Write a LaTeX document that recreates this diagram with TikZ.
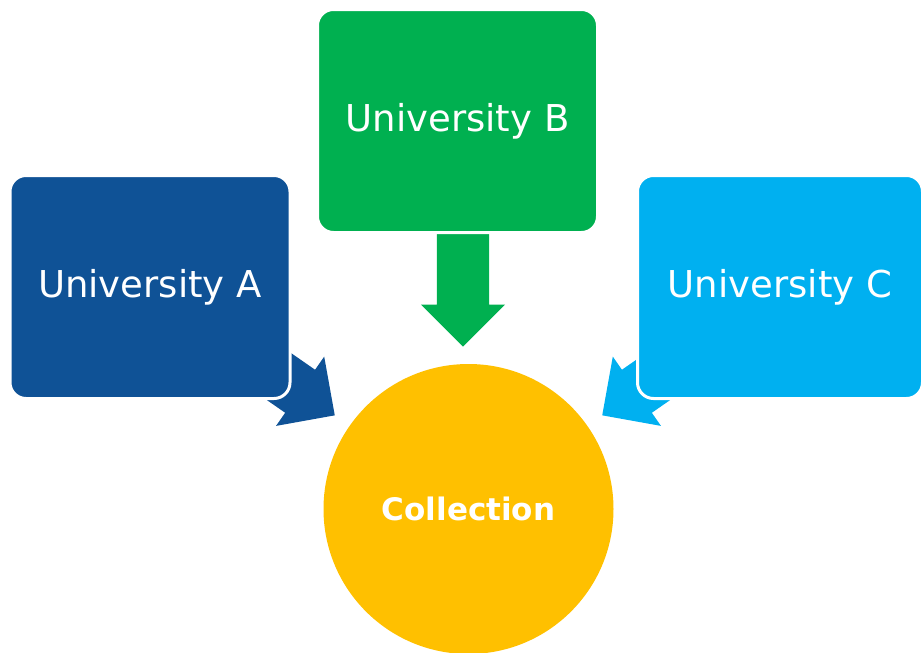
\documentclass[tikz,border=0pt]{standalone}
\usepackage{fontspec}
\setmainfont{DejaVu Sans}
\usepackage{tikz}
\usetikzlibrary{shapes,arrows,positioning,calc}

\definecolor{uniblueA}{HTML}{0F5296}
\definecolor{unigreenB}{HTML}{00B050}
\definecolor{unicyanC}{HTML}{00B0F0}
\definecolor{collgold}{HTML}{FFC000}

\begin{document}
\begin{tikzpicture}[x=1pt,y=-1pt,
  unibox/.style={rounded corners=16pt,draw=white,line width=3pt,text=white,
    minimum width=280pt,minimum height=223pt,inner sep=0pt,
    font=\fontsize{37}{44}\selectfont},
  blockarrow/.style={single arrow,single arrow head extend=16pt,
    minimum height=113pt,inner xsep=0pt,inner ysep=26pt,anchor=tip,draw=none}]
\useasboundingbox (0,0) rectangle (922,653);

% Arrows (behind the boxes)
\node[blockarrow,fill=uniblueA,rotate=-34.8] (arrowA) at (335,415.5) {};
\node[blockarrow,fill=unigreenB,rotate=-90] (arrowB) at (463,347) {};
\node[blockarrow,fill=unicyanC,rotate=-145.2] (arrowC) at (602,415.5) {};

% Universities
\node[unibox,fill=uniblueA] (uniA) at (150,287) {University A};
\node[unibox,fill=unigreenB] (uniB) at (457.5,121) {University B};
\node[unibox,fill=unicyanC,minimum width=285pt] (uniC) at (780,287) {University C};

% Collection
\node[circle,fill=collgold,minimum size=290pt,inner sep=0pt,text=white,
  font=\bfseries\fontsize{31}{36}\selectfont] (coll) at (468.5,509) {Collection};
\end{tikzpicture}
\end{document}
